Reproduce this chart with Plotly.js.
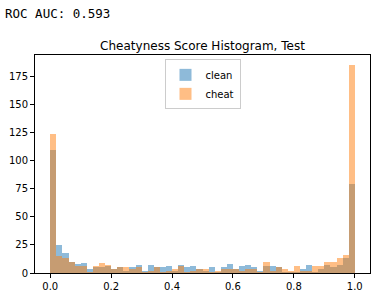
<!DOCTYPE html>
<html>
<head>
<meta charset="utf-8">
<script src="https://cdn.plot.ly/plotly-3.0.1.min.js"></script>
<style>html,body{margin:0;padding:0;background:#fff;}#chart{width:380px;height:294px;}</style>
</head>
<body>
<div id="chart"></div>
<script>
// Bin centers (bin width 0.02, from 0 to 1)
const binCenters = [0.01,0.03,0.05,0.07,0.09,0.11,0.13,0.15,0.17,0.19,
  0.21,0.23,0.25,0.27,0.29,0.31,0.33,0.35,0.37,0.39,
  0.41,0.43,0.45,0.47,0.49,0.51,0.53,0.55,0.57,0.59,
  0.61,0.63,0.65,0.67,0.69,0.71,0.73,0.75,0.77,0.79,
  0.81,0.83,0.85,0.87,0.89,0.91,0.93,0.95,0.97,0.99];
const cleanCounts = [110,25,18,10,8,9,4,5,5,6,
  4,5,2,5,7,2,7,5,5,6,
  2,7,5,6,4,2,5,1,5,8,
  4,6,7,5,2,6,6,5,1,1,
  1,4,7,1,4,7,5,7,13,79];
const cheatCounts = [124,15,13,10,6,6,1,6,9,7,
  4,5,5,4,5,1,2,5,1,2,
  4,6,1,2,4,4,1,2,4,4,
  4,2,4,4,1,10,2,5,4,2,
  6,2,2,6,6,10,10,13,16,185];
const seriesNames = ["clean", "cheat"];
const xTickVals = [0, 0.2, 0.4, 0.6, 0.8, 1.0];
const xTickText = ["0.0", "0.2", "0.4", "0.6", "0.8", "1.0"];
const yTickVals = [0, 25, 50, 75, 100, 125, 150, 175];
const titleText = "Cheatyness Score Histogram, Test";
const aucText = "ROC AUC: 0.593";

const binWidth = 0.02;
const font = "DejaVu Sans, sans-serif";
const traces = [
  {type: "bar", x: binCenters, y: cleanCounts, name: seriesNames[0], width: binWidth,
   marker: {color: "#1f77b4", line: {width: 0}}, opacity: 0.5},
  {type: "bar", x: binCenters, y: cheatCounts, name: seriesNames[1], width: binWidth,
   marker: {color: "#ff7f0e", line: {width: 0}}, opacity: 0.5}
];
const ymax = Math.max(...cleanCounts, ...cheatCounts) * 1.05;
const layout = {
  width: 380, height: 294,
  margin: {l: 35, r: 10, t: 55, b: 21, pad: 0},
  paper_bgcolor: "#fff", plot_bgcolor: "#fff",
  barmode: "overlay", bargap: 0,
  font: {family: font, size: 10, color: "#000"},
  title: {text: titleText, font: {family: font, size: 12, color: "#000"},
          x: 0.5, xref: "paper", xanchor: "center", y: 1, yref: "paper", yanchor: "bottom", pad: {b: 5}},
  xaxis: {range: [-0.05, 1.05], tickvals: xTickVals, ticktext: xTickText,
          showgrid: false, zeroline: false, showline: true, mirror: true,
          linecolor: "#000", linewidth: 1, ticks: "outside", ticklen: 4, tickcolor: "#000",
          tickfont: {family: font, size: 10, color: "#000"}},
  yaxis: {range: [0, ymax], tickvals: yTickVals,
          showgrid: false, zeroline: false, showline: true, mirror: true,
          linecolor: "#000", linewidth: 1, ticks: "outside", ticklen: 4, tickcolor: "#000",
          tickfont: {family: font, size: 10, color: "#000"}},
  showlegend: true,
  legend: {x: 0.5, xanchor: "center", y: 0.98, yanchor: "top",
           bgcolor: "rgba(255,255,255,0.8)", bordercolor: "#cccccc", borderwidth: 1,
           font: {family: font, size: 10, color: "#000"}, tracegroupgap: 0, itemwidth: 30},
  annotations: [{text: aucText, xref: "paper", yref: "paper", x: -0.095, y: 1.19,
                 xanchor: "left", yanchor: "middle", showarrow: false,
                 font: {family: "DejaVu Sans Mono, monospace", size: 12.5, color: "#000"}}]
};
Plotly.newPlot("chart", traces, layout, {displayModeBar: false, staticPlot: true});
</script>
</body>
</html>
